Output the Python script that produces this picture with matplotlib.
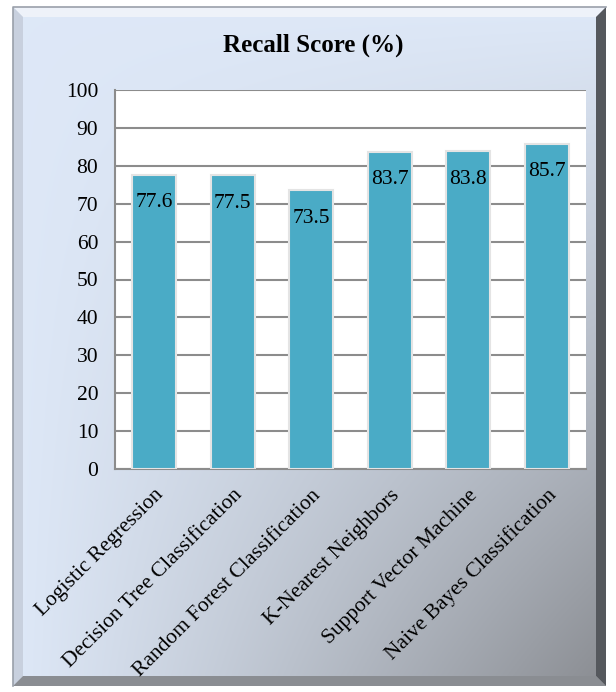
import numpy as np
import matplotlib
matplotlib.use("Agg")
import matplotlib.pyplot as plt
from matplotlib.patches import Polygon

plt.rcParams['font.family'] = ['Liberation Serif', 'DejaVu Serif']

# 数据
models = ["Logistic Regression", "Decision Tree Classification",
          "Random Forest Classification", "K-Nearest Neighbors",
          "Support Vector Machine", "Naive Bayes Classification"]
recall = [77.6, 77.5, 73.5, 83.7, 83.8, 85.7]
yticks = list(range(0, 101, 10))

W, H = 616, 692
fig = plt.figure(figsize=(W / 100, H / 100), dpi=100)

# 背景: 渐变面板 + 斜面边框
bg = fig.add_axes([0, 0, 1, 1])
bg.set_xlim(0, W)
bg.set_ylim(H, 0)
bg.axis('off')

x0, x1, y0, y1, b = 13, 606, 7, 686, 10
u = np.linspace(0, 1, 300)[None, :]
v = np.linspace(0, 1, 300)[:, None]
t = np.clip(u * v, 0, 1) ** 1.1
light = np.array([0.87, 0.91, 0.97])
gray = np.array([0.54, 0.55, 0.57])
img = light[None, None, :] * (1 - t[..., None]) + gray[None, None, :] * t[..., None]
bg.imshow(img, extent=[x0, x1, y1, y0], aspect='auto', zorder=0)

bg.add_patch(Polygon([(x0, y0), (x1, y0), (x1 - b, y0 + b), (x0 + b, y0 + b)],
                     closed=True, fc='#eef2f9', ec='none', zorder=1))
bg.add_patch(Polygon([(x0, y0), (x0 + b, y0 + b), (x0 + b, y1 - b), (x0, y1)],
                     closed=True, fc='#c8d0de', ec='none', zorder=1))
bg.add_patch(Polygon([(x1, y0), (x1, y1), (x1 - b, y1 - b), (x1 - b, y0 + b)],
                     closed=True, fc='#55585d', ec='none', zorder=1))
bg.add_patch(Polygon([(x0, y1), (x1, y1), (x1 - b, y1 - b), (x0 + b, y1 - b)],
                     closed=True, fc='#8a8d92', ec='none', zorder=1))
bg.plot([x0, x0, x1], [y1, y0, y0], color='#9aa0aa', lw=1.2, zorder=2)

# 主图
ax = fig.add_axes([115 / W, 1 - 469 / H, 471 / W, 379 / H])
ax.set_facecolor('white')
x = np.arange(len(models))
bars = ax.bar(x, recall, width=0.56, color='#4aabc6',
              edgecolor='#e4e4e4', linewidth=1.5, zorder=3)
for xi, val in zip(x, recall):
    ax.annotate(f"{val}", (xi, val), xytext=(0, -20), textcoords='offset points',
                ha='center', va='center', fontsize=15.5, color='black', zorder=4)

ax.set_xlim(-0.5, len(models) - 0.5)
ax.set_ylim(0, 100)
ax.set_yticks(yticks)
ax.yaxis.grid(True, color='#8c8c8c', lw=1.5, zorder=1)
ax.set_axisbelow(True)
for s in ['top', 'right']:
    ax.spines[s].set_visible(False)
for s in ['left', 'bottom']:
    ax.spines[s].set_color('#8c8c8c')
    ax.spines[s].set_linewidth(1.5)
ax.tick_params(axis='both', length=0, labelsize=15.5)
ax.tick_params(axis='y', pad=12)
ax.set_xticks(x)
ax.set_xticklabels(models, rotation=45, ha='right', rotation_mode='anchor')
ax.tick_params(axis='x', pad=12)

fig.text(313 / W, 1 - 45 / H, "Recall Score (%)", ha='center', va='center',
         fontsize=18, fontweight='bold')

fig.savefig("out.png", dpi=100)
